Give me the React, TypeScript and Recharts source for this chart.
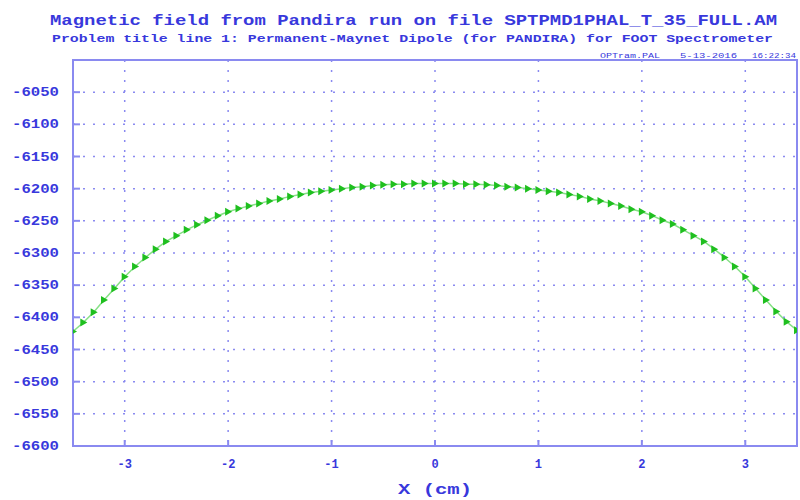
import React from "react";
import { LineChart, Line, XAxis, YAxis, CartesianGrid, ReferenceArea } from "recharts";

// x positions (cm) and field values
const xs = [
  -3.5, -3.4, -3.3, -3.2, -3.1, -3.0, -2.9, -2.8, -2.7, -2.6, -2.5, -2.4, -2.3, -2.2, -2.1, -2.0,
  -1.9, -1.8, -1.7, -1.6, -1.5, -1.4, -1.3, -1.2, -1.1, -1.0, -0.9, -0.8, -0.7, -0.6, -0.5, -0.4,
  -0.3, -0.2, -0.1, 0.0, 0.1, 0.2, 0.3, 0.4, 0.5, 0.6, 0.7, 0.8, 0.9, 1.0, 1.1, 1.2, 1.3, 1.4,
  1.5, 1.6, 1.7, 1.8, 1.9, 2.0, 2.1, 2.2, 2.3, 2.4, 2.5, 2.6, 2.7, 2.8, 2.9, 3.0, 3.1, 3.2, 3.3,
  3.4, 3.5,
];
const field = [
  -6422, -6408, -6392, -6373, -6355, -6337, -6321, -6307, -6294, -6282, -6273, -6264, -6256, -6249,
  -6242, -6236, -6231, -6227, -6223, -6219, -6216, -6212, -6209, -6206, -6204, -6202, -6200, -6198,
  -6197, -6195, -6194, -6193, -6193, -6192, -6192, -6192, -6192, -6192, -6193, -6193, -6194, -6195,
  -6197, -6198, -6200, -6202, -6204, -6206, -6209, -6212, -6216, -6219, -6223, -6227, -6232, -6236,
  -6242, -6249, -6255, -6264, -6273, -6282, -6294, -6307, -6321, -6337, -6355, -6373, -6391, -6407,
  -6420,
];
const xTicks = [-3, -2, -1, 0, 1, 2, 3];
const yTicks = [-6600, -6550, -6500, -6450, -6400, -6350, -6300, -6250, -6200, -6150, -6100, -6050];
const xDomain = [-3.5, 3.5];
const yDomain = [-6600, -6000];

const data = xs.map((x, i) => ({ x, b: field[i] }));

const AXIS = "#8a8af0";
const TEXT = "#3838dc";
const FONT = "'Liberation Mono', 'DejaVu Sans Mono', monospace";

const Triangle = (props: any) => {
  const { cx, cy } = props;
  if (cx == null || cy == null) return null;
  return (
    <polygon
      points={`${cx - 3},${cy - 4} ${cx + 4},${cy} ${cx - 3},${cy + 4}`}
      fill="#1fbf1f"
    />
  );
};

const YTick = (props: any) => {
  const { x, y, payload } = props;
  return (
    <text
      x={x - 61}
      y={y + 4}
      fill={TEXT}
      fontFamily={FONT}
      fontWeight="bold"
      fontSize={12}
      textLength={47}
      lengthAdjust="spacingAndGlyphs"
    >
      {payload.value}
    </text>
  );
};

const XTick = (props: any) => {
  const { x, y, payload } = props;
  return (
    <text
      x={x}
      y={y + 22}
      fill={TEXT}
      fontFamily={FONT}
      fontWeight="bold"
      fontSize={12}
      textAnchor="middle"
    >
      {payload.value}
    </text>
  );
};

const NoTick = () => null;

const App = () => {
  return (
    <div style={{ position: "absolute", left: 0, top: 0, width: 800, height: 500, background: "#fff" }}>
      <LineChart
        width={800}
        height={500}
        data={data}
        margin={{ top: 60, right: 3, bottom: 24, left: 0 }}
      >
        <CartesianGrid stroke={AXIS} strokeDasharray="2 8" strokeWidth={1.5} />
        <XAxis
          dataKey="x"
          type="number"
          domain={xDomain}
          ticks={xTicks}
          allowDataOverflow
          height={30}
          stroke={AXIS}
          strokeWidth={2}
          tickSize={-6}
          tickMargin={6}
          tick={<XTick />}
        />
        <XAxis
          xAxisId="top"
          orientation="top"
          dataKey="x"
          type="number"
          domain={xDomain}
          ticks={xTicks}
          allowDataOverflow
          height={0}
          stroke={AXIS}
          strokeWidth={2}
          tickSize={-5}
          tick={<NoTick />}
        />
        <YAxis
          type="number"
          domain={yDomain}
          ticks={yTicks}
          allowDataOverflow
          width={73}
          stroke={AXIS}
          strokeWidth={2}
          tickSize={-7}
          tickMargin={7}
          tick={<YTick />}
        />
        <YAxis
          yAxisId="right"
          orientation="right"
          type="number"
          domain={yDomain}
          ticks={yTicks}
          allowDataOverflow
          width={0}
          stroke={AXIS}
          strokeWidth={2}
          tickSize={-7}
          tick={<NoTick />}
        />
        <ReferenceArea
          x1={xDomain[0]}
          x2={xDomain[1]}
          y1={yDomain[0]}
          y2={yDomain[1]}
          fill="none"
          stroke={AXIS}
          strokeWidth={2}
        />
        <Line
          xAxisId="top"
          yAxisId="right"
          dataKey="b"
          stroke="none"
          dot={false}
          legendType="none"
          isAnimationActive={false}
        />
        <Line
          dataKey="b"
          stroke="#86e086"
          strokeWidth={1.5}
          dot={<Triangle />}
          isAnimationActive={false}
        />
      </LineChart>
      <svg
        width={800}
        height={500}
        style={{ position: "absolute", left: 0, top: 0, pointerEvents: "none" }}
      >
        <text x={50} y={25} fill={TEXT} fontFamily={FONT} fontWeight="bold" fontSize={15}
          textLength={727} lengthAdjust="spacingAndGlyphs">
          Magnetic field from Pandira run on file SPTPMD1PHAL_T_35_FULL.AM
        </text>
        <text x={52} y={42} fill={TEXT} fontFamily={FONT} fontWeight="bold" fontSize={11}
          textLength={721} lengthAdjust="spacingAndGlyphs">
          Problem title line 1: Permanent-Maynet Dipole (for PANDIRA) for FOOT Spectrometer
        </text>
        <text x={600} y={58} fill={TEXT} fontFamily={FONT} fontSize={7}
          textLength={60} lengthAdjust="spacingAndGlyphs">
          OPTram.PAL
        </text>
        <text x={680} y={58} fill={TEXT} fontFamily={FONT} fontSize={7}
          textLength={57} lengthAdjust="spacingAndGlyphs">
          5-13-2016
        </text>
        <text x={752} y={58} fill={TEXT} fontFamily={FONT} fontSize={7}
          textLength={44} lengthAdjust="spacingAndGlyphs">
          16:22:34
        </text>
        <text x={398} y={494} fill={TEXT} fontFamily={FONT} fontWeight="bold" fontSize={15}
          textLength={74} lengthAdjust="spacingAndGlyphs">
          X (cm)
        </text>
      </svg>
    </div>
  );
};

export default App;
